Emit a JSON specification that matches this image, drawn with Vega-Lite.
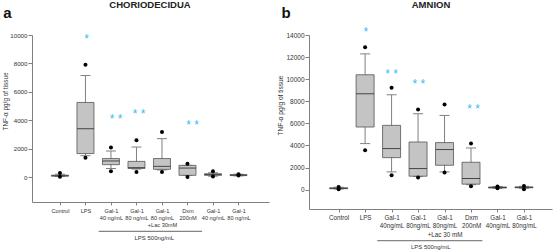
{
  "$schema": "https://vega.github.io/schema/vega-lite/v6.json",
  "autosize": {"type": "pad"},
  "padding": {"left": 2, "top": 0, "right": 2, "bottom": 0},
  "bounds": "flush",
  "spacing": 40,
  "config": {
    "font": "Liberation Sans",
    "view": {"stroke": null},
    "axis": {"grid": false, "domainColor": "#808080", "tickColor": "#808080", "labelColor": "#333333", "titleColor": "#333333", "titleFontWeight": "normal", "labelOverlap": false},
    "axisY": {"titleAngle": -90, "titleAlign": "center", "titleBaseline": "middle", "tickSize": 4, "labelPadding": 1, "format": "d"},
    "axisX": {"tickSize": 3, "labelAngle": 0, "labelFlush": false, "title": null}
  },
  "datasets": {
    "boxA": [
      {"pos": 1, "min": 30, "q1": 60, "med": 90, "q3": 130, "max": 200},
      {"pos": 2, "min": 1500, "q1": 1650, "med": 3400, "q3": 5250, "max": 7150},
      {"pos": 3, "min": 600, "q1": 870, "med": 1130, "q3": 1300, "max": 1830},
      {"pos": 4, "min": 560, "q1": 600, "med": 660, "q3": 1100, "max": 2110},
      {"pos": 5, "min": 500, "q1": 540, "med": 750, "q3": 1300, "max": 2700},
      {"pos": 6, "min": 120, "q1": 120, "med": 630, "q3": 820, "max": 820},
      {"pos": 7, "min": 60, "q1": 120, "med": 170, "q3": 230, "max": 300},
      {"pos": 8, "min": 80, "q1": 100, "med": 130, "q3": 170, "max": 200}
    ],
    "outA": [
      {"pos": 1, "v": 280}, {"pos": 1, "v": 10},
      {"pos": 2, "v": 7900}, {"pos": 2, "v": 1350},
      {"pos": 3, "v": 2070}, {"pos": 3, "v": 400},
      {"pos": 4, "v": 2590}, {"pos": 4, "v": 350},
      {"pos": 5, "v": 3170}, {"pos": 5, "v": 350},
      {"pos": 6, "v": 940}, {"pos": 6, "v": 0},
      {"pos": 7, "v": 400}, {"pos": 7, "v": 30},
      {"pos": 8, "v": 190}, {"pos": 8, "v": 110}
    ],
    "starA": [
      {"pos": 2.04, "v": 9900, "s": "*"},
      {"pos": 3.2, "v": 4270, "s": "* *"},
      {"pos": 4.1, "v": 4640, "s": "* *"},
      {"pos": 6.2, "v": 3870, "s": "* *"}
    ],
    "titleA": [{"pos": 4.53, "v": 11900, "t": "CHORIODECIDUA"}],
    "letA": [{"pos": -1.22, "v": 11211, "t": "a"}],
    "lpsA": [{"pos": 4.7, "v": -4317, "t": "LPS 500ng/mL"}],
    "brA": [{"x1": 2.52, "x2": 6.57, "v": -3824}],
    "boxB": [
      {"pos": 1, "min": 60, "q1": 90, "med": 120, "q3": 170, "max": 220},
      {"pos": 2, "min": 4170, "q1": 5670, "med": 8680, "q3": 10400, "max": 12290},
      {"pos": 3, "min": 1610, "q1": 2900, "med": 3720, "q3": 5820, "max": 8590},
      {"pos": 4, "min": 1200, "q1": 1220, "med": 1910, "q3": 4315, "max": 6875},
      {"pos": 5, "min": 1610, "q1": 2210, "med": 3630, "q3": 4260, "max": 6720},
      {"pos": 6, "min": 450, "q1": 500, "med": 1010, "q3": 2480, "max": 3775},
      {"pos": 7, "min": 120, "q1": 150, "med": 200, "q3": 240, "max": 280},
      {"pos": 8, "min": 120, "q1": 170, "med": 210, "q3": 250, "max": 300}
    ],
    "outB": [
      {"pos": 1, "v": 250}, {"pos": 1, "v": 40},
      {"pos": 2, "v": 12890}, {"pos": 2, "v": 3570},
      {"pos": 3, "v": 9220}, {"pos": 3, "v": 1310},
      {"pos": 4, "v": 7265}, {"pos": 4, "v": 1100},
      {"pos": 5, "v": 7715}, {"pos": 5, "v": 1550},
      {"pos": 6, "v": 4170}, {"pos": 6, "v": 320},
      {"pos": 7, "v": 280}, {"pos": 7, "v": 130},
      {"pos": 8, "v": 340}, {"pos": 8, "v": 40}
    ],
    "starB": [
      {"pos": 2.03, "v": 14500, "s": "*"},
      {"pos": 3.0, "v": 10785, "s": "* *"},
      {"pos": 4.03, "v": 9880, "s": "* *"},
      {"pos": 6.1, "v": 7535, "s": "* *"}
    ],
    "titleB": [{"pos": 4.49, "v": 16400, "t": "AMNION"}],
    "letB": [{"pos": -1.16, "v": 15523, "t": "b"}],
    "lpsB": [{"pos": 4.48, "v": -5162, "t": "LPS 500ng/mL"}],
    "brB": [{"x1": 2.46, "x2": 6.43, "v": -4621}]
  },
  "hconcat": [
    {
      "width": 237,
      "height": 167,
      "encoding": {
        "x": {"field": "pos", "type": "quantitative", "scale": {"domain": [0.1, 9], "nice": false, "zero": false},
          "axis": {"values": [1, 2, 3, 4, 5, 6, 7, 8], "title": null, "labelFontSize": 5.6, "labelLineHeight": 7, "labelPadding": 3,
            "labelExpr": "[['Control'],['LPS'],['Gal-1','40 ng/mL'],['Gal-1','80 ng/mL'],['Gal-1','80 ng/mL','+Lac 30mM'],['Dxm','200nM'],['Gal-1','40 ng/mL'],['Gal-1','80 ng/mL']][datum.value-1]"}}
      },
      "layer": [
        {"data": {"name": "boxA"}, "mark": {"type": "rule", "color": "#808080", "strokeWidth": 1},
          "encoding": {"y": {"field": "min", "type": "quantitative", "scale": {"domain": [-1760, 10000], "nice": false, "zero": false},
            "axis": {"values": [0, 2000, 4000, 6000, 8000, 10000], "title": "TNF-α pg/g of tissue", "labelFontSize": 6.2, "titleFontSize": 6.4, "titleX": -27, "titleY": 66}},
            "y2": {"field": "max"}}},
        {"data": {"name": "boxA"}, "mark": {"type": "tick", "orient": "horizontal", "size": 10, "thickness": 1, "color": "#808080", "opacity": 1},
          "encoding": {"y": {"field": "min", "type": "quantitative", "scale": {"domain": [-1760, 10000], "nice": false, "zero": false},
            "axis": {"values": [0, 2000, 4000, 6000, 8000, 10000], "title": "TNF-α pg/g of tissue", "labelFontSize": 6.2, "titleFontSize": 6.4, "titleX": -27, "titleY": 66}}}},
        {"data": {"name": "boxA"}, "mark": {"type": "tick", "orient": "horizontal", "size": 10, "thickness": 1, "color": "#808080", "opacity": 1},
          "encoding": {"y": {"field": "max", "type": "quantitative", "scale": {"domain": [-1760, 10000], "nice": false, "zero": false},
            "axis": {"values": [0, 2000, 4000, 6000, 8000, 10000], "title": "TNF-α pg/g of tissue", "labelFontSize": 6.2, "titleFontSize": 6.4, "titleX": -27, "titleY": 66}}}},
        {"data": {"name": "boxA"}, "mark": {"type": "bar", "orient": "vertical", "width": 17, "fill": "#c4c4c4", "stroke": "#555555", "strokeWidth": 0.8, "opacity": 1},
          "encoding": {"y": {"field": "q1", "type": "quantitative", "scale": {"domain": [-1760, 10000], "nice": false, "zero": false},
            "axis": {"values": [0, 2000, 4000, 6000, 8000, 10000], "title": "TNF-α pg/g of tissue", "labelFontSize": 6.2, "titleFontSize": 6.4, "titleX": -27, "titleY": 66}}, "y2": {"field": "q3"}}},
        {"data": {"name": "boxA"}, "mark": {"type": "tick", "orient": "horizontal", "size": 17, "thickness": 1, "color": "#444444", "opacity": 1},
          "encoding": {"y": {"field": "med", "type": "quantitative", "scale": {"domain": [-1760, 10000], "nice": false, "zero": false},
            "axis": {"values": [0, 2000, 4000, 6000, 8000, 10000], "title": "TNF-α pg/g of tissue", "labelFontSize": 6.2, "titleFontSize": 6.4, "titleX": -27, "titleY": 66}}}},
        {"data": {"name": "outA"}, "mark": {"type": "point", "filled": true, "color": "#000000", "size": 16, "opacity": 1},
          "encoding": {"y": {"field": "v", "type": "quantitative", "scale": {"domain": [-1760, 10000], "nice": false, "zero": false},
            "axis": {"values": [0, 2000, 4000, 6000, 8000, 10000], "title": "TNF-α pg/g of tissue", "labelFontSize": 6.2, "titleFontSize": 6.4, "titleX": -27, "titleY": 66}}}},
        {"data": {"name": "starA"}, "mark": {"type": "text", "color": "#35bdf0", "fontSize": 12, "dy": 3},
          "encoding": {"y": {"field": "v", "type": "quantitative", "scale": {"domain": [-1760, 10000], "nice": false, "zero": false},
            "axis": {"values": [0, 2000, 4000, 6000, 8000, 10000], "title": "TNF-α pg/g of tissue", "labelFontSize": 6.2, "titleFontSize": 6.4, "titleX": -27, "titleY": 66}}, "text": {"field": "s"}}},
        {"data": {"name": "titleA"}, "mark": {"type": "text", "fontSize": 9.5, "fontWeight": "bold", "align": "center", "baseline": "alphabetic", "color": "#222222"},
          "encoding": {"y": {"field": "v", "type": "quantitative", "scale": {"domain": [-1760, 10000], "nice": false, "zero": false},
            "axis": {"values": [0, 2000, 4000, 6000, 8000, 10000], "title": "TNF-α pg/g of tissue", "labelFontSize": 6.2, "titleFontSize": 6.4, "titleX": -27, "titleY": 66}}, "text": {"field": "t"}}},
        {"data": {"name": "letA"}, "mark": {"type": "text", "fontSize": 15, "fontWeight": "bold", "align": "left", "baseline": "alphabetic", "color": "#111111"},
          "encoding": {"y": {"field": "v", "type": "quantitative", "scale": {"domain": [-1760, 10000], "nice": false, "zero": false},
            "axis": {"values": [0, 2000, 4000, 6000, 8000, 10000], "title": "TNF-α pg/g of tissue", "labelFontSize": 6.2, "titleFontSize": 6.4, "titleX": -27, "titleY": 66}}, "text": {"field": "t"}}},
        {"data": {"name": "lpsA"}, "mark": {"type": "text", "fontSize": 6, "baseline": "middle", "color": "#333333"},
          "encoding": {"y": {"field": "v", "type": "quantitative", "scale": {"domain": [-1760, 10000], "nice": false, "zero": false},
            "axis": {"values": [0, 2000, 4000, 6000, 8000, 10000], "title": "TNF-α pg/g of tissue", "labelFontSize": 6.2, "titleFontSize": 6.4, "titleX": -27, "titleY": 66}}, "text": {"field": "t"}}},
        {"data": {"name": "brA"}, "mark": {"type": "rule", "color": "#666666", "strokeWidth": 1},
          "encoding": {"x": {"field": "x1", "type": "quantitative", "scale": {"domain": [0.1, 9], "nice": false, "zero": false},
            "axis": {"values": [1, 2, 3, 4, 5, 6, 7, 8], "title": null, "labelFontSize": 5.6, "labelLineHeight": 7, "labelPadding": 3,
            "labelExpr": "[['Control'],['LPS'],['Gal-1','40 ng/mL'],['Gal-1','80 ng/mL'],['Gal-1','80 ng/mL','+Lac 30mM'],['Dxm','200nM'],['Gal-1','40 ng/mL'],['Gal-1','80 ng/mL']][datum.value-1]"}}, "x2": {"field": "x2"},
            "y": {"field": "v", "type": "quantitative", "scale": {"domain": [-1760, 10000], "nice": false, "zero": false},
            "axis": {"values": [0, 2000, 4000, 6000, 8000, 10000], "title": "TNF-α pg/g of tissue", "labelFontSize": 6.2, "titleFontSize": 6.4, "titleX": -27, "titleY": 66}}}}
      ]
    },
    {
      "width": 243,
      "height": 174,
      "encoding": {
        "x": {"field": "pos", "type": "quantitative", "scale": {"domain": [0.07, 8.87], "nice": false, "zero": false},
          "axis": {"values": [1, 2, 3, 4, 5, 6, 7, 8], "title": null, "labelFontSize": 6.3, "labelLineHeight": 8.8, "labelPadding": 2,
            "labelExpr": "[['Control'],['LPS'],['Gal-1','40ng/mL'],['Gal-1','80ng/mL'],['Gal-1','80ng/mL','+Lac 30 mM'],['Dxm','200nM'],['Gal-1','40ng/mL'],['Gal-1','80ng/mL']][datum.value-1]"}}
      },
      "layer": [
        {"data": {"name": "boxB"}, "mark": {"type": "rule", "color": "#808080", "strokeWidth": 1},
          "encoding": {"y": {"field": "min", "type": "quantitative", "scale": {"domain": [-1750, 14000], "nice": false, "zero": false},
            "axis": {"values": [0, 2000, 4000, 6000, 8000, 10000, 12000, 14000], "title": "TNF-α pg/g of tissue", "labelFontSize": 6.5, "titleFontSize": 6.6, "titleX": -28.5, "titleY": 70}},
            "y2": {"field": "max"}}},
        {"data": {"name": "boxB"}, "mark": {"type": "tick", "orient": "horizontal", "size": 10, "thickness": 1, "color": "#808080", "opacity": 1},
          "encoding": {"y": {"field": "min", "type": "quantitative", "scale": {"domain": [-1750, 14000], "nice": false, "zero": false},
            "axis": {"values": [0, 2000, 4000, 6000, 8000, 10000, 12000, 14000], "title": "TNF-α pg/g of tissue", "labelFontSize": 6.5, "titleFontSize": 6.6, "titleX": -28.5, "titleY": 70}}}},
        {"data": {"name": "boxB"}, "mark": {"type": "tick", "orient": "horizontal", "size": 10, "thickness": 1, "color": "#808080", "opacity": 1},
          "encoding": {"y": {"field": "max", "type": "quantitative", "scale": {"domain": [-1750, 14000], "nice": false, "zero": false},
            "axis": {"values": [0, 2000, 4000, 6000, 8000, 10000, 12000, 14000], "title": "TNF-α pg/g of tissue", "labelFontSize": 6.5, "titleFontSize": 6.6, "titleX": -28.5, "titleY": 70}}}},
        {"data": {"name": "boxB"}, "mark": {"type": "bar", "orient": "vertical", "width": 18, "fill": "#c4c4c4", "stroke": "#555555", "strokeWidth": 0.8, "opacity": 1},
          "encoding": {"y": {"field": "q1", "type": "quantitative", "scale": {"domain": [-1750, 14000], "nice": false, "zero": false},
            "axis": {"values": [0, 2000, 4000, 6000, 8000, 10000, 12000, 14000], "title": "TNF-α pg/g of tissue", "labelFontSize": 6.5, "titleFontSize": 6.6, "titleX": -28.5, "titleY": 70}}, "y2": {"field": "q3"}}},
        {"data": {"name": "boxB"}, "mark": {"type": "tick", "orient": "horizontal", "size": 18, "thickness": 1, "color": "#444444", "opacity": 1},
          "encoding": {"y": {"field": "med", "type": "quantitative", "scale": {"domain": [-1750, 14000], "nice": false, "zero": false},
            "axis": {"values": [0, 2000, 4000, 6000, 8000, 10000, 12000, 14000], "title": "TNF-α pg/g of tissue", "labelFontSize": 6.5, "titleFontSize": 6.6, "titleX": -28.5, "titleY": 70}}}},
        {"data": {"name": "outB"}, "mark": {"type": "point", "filled": true, "color": "#000000", "size": 16, "opacity": 1},
          "encoding": {"y": {"field": "v", "type": "quantitative", "scale": {"domain": [-1750, 14000], "nice": false, "zero": false},
            "axis": {"values": [0, 2000, 4000, 6000, 8000, 10000, 12000, 14000], "title": "TNF-α pg/g of tissue", "labelFontSize": 6.5, "titleFontSize": 6.6, "titleX": -28.5, "titleY": 70}}}},
        {"data": {"name": "starB"}, "mark": {"type": "text", "color": "#35bdf0", "fontSize": 12, "dy": 3},
          "encoding": {"y": {"field": "v", "type": "quantitative", "scale": {"domain": [-1750, 14000], "nice": false, "zero": false},
            "axis": {"values": [0, 2000, 4000, 6000, 8000, 10000, 12000, 14000], "title": "TNF-α pg/g of tissue", "labelFontSize": 6.5, "titleFontSize": 6.6, "titleX": -28.5, "titleY": 70}}, "text": {"field": "s"}}},
        {"data": {"name": "titleB"}, "mark": {"type": "text", "fontSize": 9.5, "fontWeight": "bold", "align": "center", "baseline": "alphabetic", "color": "#222222"},
          "encoding": {"y": {"field": "v", "type": "quantitative", "scale": {"domain": [-1750, 14000], "nice": false, "zero": false},
            "axis": {"values": [0, 2000, 4000, 6000, 8000, 10000, 12000, 14000], "title": "TNF-α pg/g of tissue", "labelFontSize": 6.5, "titleFontSize": 6.6, "titleX": -28.5, "titleY": 70}}, "text": {"field": "t"}}},
        {"data": {"name": "letB"}, "mark": {"type": "text", "fontSize": 15, "fontWeight": "bold", "align": "left", "baseline": "alphabetic", "color": "#111111"},
          "encoding": {"y": {"field": "v", "type": "quantitative", "scale": {"domain": [-1750, 14000], "nice": false, "zero": false},
            "axis": {"values": [0, 2000, 4000, 6000, 8000, 10000, 12000, 14000], "title": "TNF-α pg/g of tissue", "labelFontSize": 6.5, "titleFontSize": 6.6, "titleX": -28.5, "titleY": 70}}, "text": {"field": "t"}}},
        {"data": {"name": "lpsB"}, "mark": {"type": "text", "fontSize": 6, "baseline": "middle", "color": "#333333"},
          "encoding": {"y": {"field": "v", "type": "quantitative", "scale": {"domain": [-1750, 14000], "nice": false, "zero": false},
            "axis": {"values": [0, 2000, 4000, 6000, 8000, 10000, 12000, 14000], "title": "TNF-α pg/g of tissue", "labelFontSize": 6.5, "titleFontSize": 6.6, "titleX": -28.5, "titleY": 70}}, "text": {"field": "t"}}},
        {"data": {"name": "brB"}, "mark": {"type": "rule", "color": "#666666", "strokeWidth": 1},
          "encoding": {"x": {"field": "x1", "type": "quantitative", "scale": {"domain": [0.07, 8.87], "nice": false, "zero": false},
            "axis": {"values": [1, 2, 3, 4, 5, 6, 7, 8], "title": null, "labelFontSize": 6.3, "labelLineHeight": 8.8, "labelPadding": 2,
            "labelExpr": "[['Control'],['LPS'],['Gal-1','40ng/mL'],['Gal-1','80ng/mL'],['Gal-1','80ng/mL','+Lac 30 mM'],['Dxm','200nM'],['Gal-1','40ng/mL'],['Gal-1','80ng/mL']][datum.value-1]"}}, "x2": {"field": "x2"},
            "y": {"field": "v", "type": "quantitative", "scale": {"domain": [-1750, 14000], "nice": false, "zero": false},
            "axis": {"values": [0, 2000, 4000, 6000, 8000, 10000, 12000, 14000], "title": "TNF-α pg/g of tissue", "labelFontSize": 6.5, "titleFontSize": 6.6, "titleX": -28.5, "titleY": 70}}}}
      ]
    }
  ]
}
